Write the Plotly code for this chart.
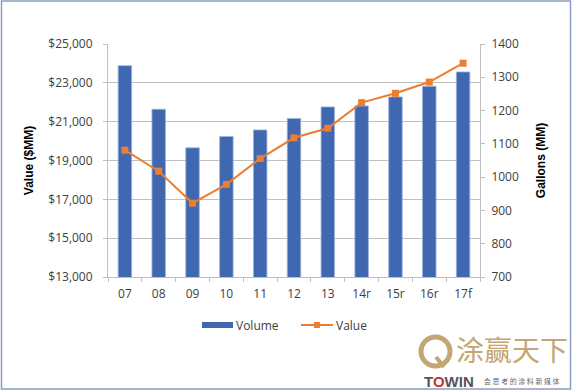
import plotly.graph_objects as go

years = ["07", "08", "09", "10", "11", "12", "13", "14r", "15r", "16r", "17f"]
volume_gal = [1335, 1204, 1088, 1122, 1142, 1176, 1211, 1214, 1241, 1273, 1316]
value_mm = [19530, 18450, 16800, 17770, 19100, 20170, 20660, 21980, 22460, 23040, 24010]

W, H = 573, 391
L, R, T, B = 108, 93, 44, 114
PW, PH = W - L - R, H - T - B

BLUE = "#3f68b1"
ORANGE = "#ed7d31"

def px(x):
    return (x - L) / PW

def py(y):
    return (H - B - y) / PH

fig = go.Figure()
fig.add_trace(go.Bar(
    x=years, y=volume_gal, name="Volume", yaxis="y",
    marker=dict(color=BLUE, line=dict(color="#9db5de", width=0.8)),
    width=0.4, showlegend=False,
))
fig.add_trace(go.Scatter(
    x=years, y=value_mm, name="Value", yaxis="y2", mode="lines+markers",
    line=dict(color=ORANGE, width=2),
    marker=dict(symbol="square", size=7, color=ORANGE),
    showlegend=False,
))

FONT = "Open Sans, Liberation Sans, Arial, sans-serif"
tickfont = dict(family=FONT, size=12, color="#404040")
titlefont = dict(family="Liberation Sans, Arial, sans-serif", size=12, color="#000000")

fig.update_layout(
    width=W, height=H,
    margin=dict(l=L, r=R, t=T, b=B, autoexpand=False),
    paper_bgcolor="white", plot_bgcolor="white",
    showlegend=False,
    xaxis=dict(
        type="category", range=[-0.5, len(years) - 0.5], tickfont=tickfont,
        showline=True, linecolor="#bfbfbf", ticklabelstandoff=6,
        ticks="outside", tickson="boundaries", ticklen=4, tickcolor="#bfbfbf",
        showgrid=False,
    ),
    yaxis=dict(
        side="right", range=[700, 1400], tick0=700, dtick=100, tickfont=tickfont,
        showline=True, linecolor="#bfbfbf", ticks="outside", ticklen=4, tickcolor="#bfbfbf",
        ticklabelstandoff=4,
        showgrid=False, zeroline=False,
        title=dict(text="<b>Gallons (MM)</b>", font=titlefont, standoff=18),
    ),
    yaxis2=dict(
        side="left", overlaying="y", range=[13000, 25000], tick0=13000, dtick=2000,
        tickprefix="$", tickformat=",", tickfont=tickfont,
        showline=True, linecolor="#bfbfbf", ticks="outside", ticklen=4, tickcolor="#bfbfbf",
        ticklabelstandoff=8,
        showgrid=True, gridcolor="#bfbfbf", gridwidth=1, zeroline=False,
        title=dict(text="<b>Value ($MM)</b>", font=titlefont, standoff=12),
    ),
)

def note(x, y, text, font, xanchor="center"):
    fig.add_annotation(x=px(x), y=py(y), xref="paper", yref="paper",
                       xanchor=xanchor, yanchor="middle", text=text,
                       showarrow=False, font=font)

# manual legend
fig.add_shape(type="rect", xref="paper", yref="paper",
              x0=px(202), x1=px(233), y0=py(328), y1=py(322),
              fillcolor=BLUE, line=dict(width=0))
note(234, 325, "Volume", dict(family=FONT, size=12, color="#404040"), "left")
fig.add_shape(type="line", xref="paper", yref="paper",
              x0=px(301), x1=px(333), y0=py(325), y1=py(325),
              line=dict(color=ORANGE, width=2))
fig.add_shape(type="rect", xref="paper", yref="paper",
              x0=px(314), x1=px(320), y0=py(328), y1=py(322),
              fillcolor=ORANGE, line=dict(width=0))
note(334, 325, "Value", dict(family=FONT, size=12, color="#404040"), "left")

# outer frame
fig.add_shape(type="rect", xref="paper", yref="paper",
              x0=px(1.5), x1=px(570.5), y0=py(389), y1=py(1),
              line=dict(color="#8a9dbd", width=1.5), layer="above")

# watermark logo
gold = "#c4a673"
fig.add_shape(type="circle", xref="paper", yref="paper",
              x0=px(421), x1=px(450), y0=py(366), y1=py(337),
              line=dict(color=gold, width=5))
fig.add_shape(type="line", xref="paper", yref="paper",
              x0=px(436), x1=px(444), y0=py(357), y1=py(367),
              line=dict(color=gold, width=4))
note(512, 349, "涂赢天下", dict(family="Noto Sans CJK SC", size=28, color=gold))
note(449, 381, "<b>T<span style='color:#c0392b'>O</span>WIN</b>",
     dict(family="Liberation Sans, Arial", size=15, color="#555555"))
note(522, 381, "会 思 考 的 涂 料 新 媒 体",
     dict(family="Noto Sans CJK SC", size=7, color="#666666"))

fig.write_html("out.html", config={"displayModeBar": False},
               post_script="document.body.style.margin='0';document.body.style.overflow='hidden';")
